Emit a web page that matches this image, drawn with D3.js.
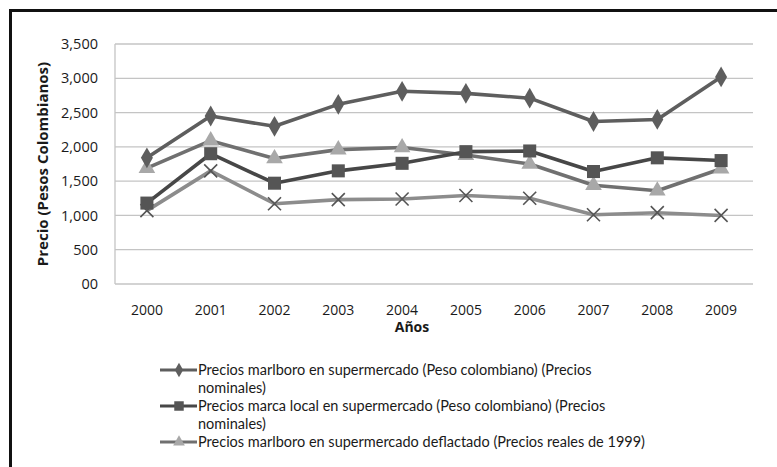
<!DOCTYPE html>
<html><head><meta charset="utf-8">
<script src="https://cdn.jsdelivr.net/npm/d3@7"></script>
<style>body{margin:0;background:#fff}svg{display:block}</style>
</head><body>
<svg id="c" width="777" height="467"></svg>
<script>
const years = ["2000","2001","2002","2003","2004","2005","2006","2007","2008","2009"];
const marlboroNominal = [1840,2450,2300,2620,2810,2780,2710,2370,2400,3020];
const localNominal = [1180,1900,1470,1650,1760,1930,1940,1640,1840,1800];
const marlboroDeflated = [1690,2090,1830,1960,1990,1880,1750,1440,1360,1680];
const localDeflated = [1070,1650,1170,1230,1240,1290,1250,1010,1040,1000];
const yTicks = [0,500,1000,1500,2000,2500,3000,3500];
const yTickLabels = ["00","500","1,000","1,500","2,000","2,500","3,000","3,500"];
const legendLabels = [
  ["Precios marlboro en supermercado (Peso colombiano) (Precios","nominales)"],
  ["Precios marca local en supermercado (Peso colombiano) (Precios","nominales)"],
  ["Precios marlboro en supermercado deflactado (Precios reales de 1999)"]
];

(function(){
const svg = d3.select("#c");
const pL = 115, pR = 753, pT = 44, pB = 284;
const x = d3.scaleBand().domain(years).range([pL, pR]);
const y = d3.scaleLinear().domain([0,3500]).range([pB, pT]);
const cx = d => x(d) + x.bandwidth()/2;

// frame
svg.append("path").attr("d", `M10.5,467 V10.5 H777`).attr("fill","none").attr("stroke","#111").attr("stroke-width",3);

// grid
svg.append("g").selectAll("line").data(yTicks).join("line")
  .attr("x1", pL).attr("x2", pR).attr("y1", d => y(d)).attr("y2", d => y(d))
  .attr("stroke", "#c4c4c4").attr("stroke-width", 1.3);
svg.append("line").attr("x1", pL).attr("x2", pL).attr("y1", pT).attr("y2", pB)
  .attr("stroke", "#c4c4c4").attr("stroke-width", 1.3);

// y tick labels
const yAxis = d3.axisLeft(y).tickValues(yTicks).tickFormat((d,i) => yTickLabels[i]).tickSize(0).tickPadding(17);
const ga = svg.append("g").attr("transform", `translate(${pL},0)`).call(yAxis);
ga.select(".domain").remove();
ga.selectAll("text").attr("font-family","Open Sans").attr("font-size",14.5).attr("fill","#1a1a1a");

// x tick labels
const xAxis = d3.axisBottom(x).tickSize(0).tickPadding(21);
const gx = svg.append("g").attr("transform", `translate(0,${pB})`).call(xAxis);
gx.select(".domain").remove();
gx.selectAll("text").attr("font-family","Open Sans").attr("font-size",14).attr("fill","#1a1a1a");

// axis titles
svg.append("text").attr("x", 412).attr("y", 332).attr("text-anchor","middle")
  .attr("font-family","Open Sans").attr("font-weight","bold").attr("font-size",14).attr("fill","#1a1a1a").text("Años");
svg.append("text").attr("transform","translate(48,164) rotate(-90)").attr("text-anchor","middle")
  .attr("font-family","Open Sans").attr("font-weight","bold").attr("font-size",15).attr("fill","#1a1a1a")
  .text("Precio (Pesos Colombianos)");

const line = d3.line().x((d,i) => cx(years[i])).y(d => y(d));
const series = [
  {data: localDeflated, stroke:"#8c8c8c", marker:"x", mfill:"#555"},
  {data: marlboroDeflated, stroke:"#707070", marker:"tri", mfill:"#a8a8a8"},
  {data: localNominal, stroke:"#474747", marker:"sq", mfill:"#555"},
  {data: marlboroNominal, stroke:"#5e5e5e", marker:"dia", mfill:"#5e5e5e"}
];
const sym = {
  tri: d3.symbol(d3.symbolTriangle, 120)(),
  sq: d3.symbol(d3.symbolSquare, 170)(),
  dia: d3.symbol(d3.symbolDiamond, 125)(),
  x: "M-6.5,-6.5L6.5,6.5M-6.5,6.5L6.5,-6.5"
};
function drawMarker(g, type, fill, px, py) {
  const p = g.append("path").attr("d", sym[type]).attr("transform", `translate(${px},${py})`);
  if (type === "x") p.attr("fill","none").attr("stroke", fill).attr("stroke-width",1.6);
  else p.attr("fill", fill);
}
series.forEach(s => {
  const g = svg.append("g");
  g.append("path").attr("d", line(s.data)).attr("fill","none").attr("stroke", s.stroke).attr("stroke-width",3.6).attr("stroke-linejoin","round");
  s.data.forEach((v,i) => drawMarker(g, s.marker, s.mfill, cx(years[i]), y(v)));
});

// legend
const legSeries = [series[3], series[2], series[1]];
const legY = [370, 406, 442];
const sm = {tri: d3.symbol(d3.symbolTriangle, 60)(), sq: d3.symbol(d3.symbolSquare, 90)(), dia: d3.symbol(d3.symbolDiamond, 60)()};
legendLabels.forEach((lines, i) => {
  const g = svg.append("g");
  const s = legSeries[i];
  g.append("line").attr("x1",160).attr("x2",197).attr("y1",legY[i]).attr("y2",legY[i]).attr("stroke", s.stroke).attr("stroke-width",3);
  g.append("path").attr("d", sm[s.marker]).attr("transform", `translate(179,${legY[i]})`).attr("fill", s.mfill);
  lines.forEach((t, j) => {
    g.append("text").attr("x", 198).attr("y", legY[i] + j*17.5).attr("dy","0.35em")
      .attr("font-family","Lato").attr("font-size",14.5).attr("fill","#1a1a1a").text(t);
  });
});
})();
</script>
</body></html>
